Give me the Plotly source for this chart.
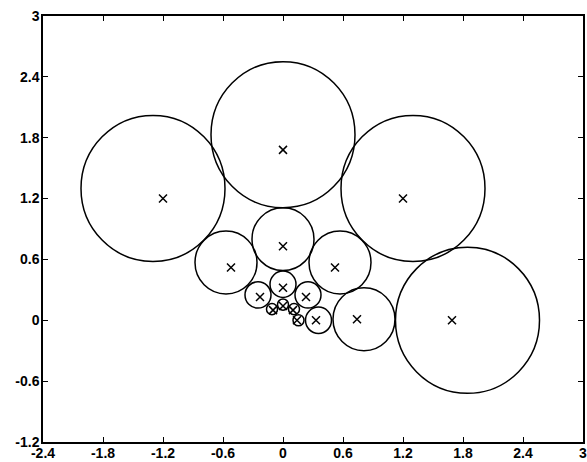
import plotly.graph_objects as go

# Marker positions
marker_x = [-1.2, 0.0, 1.2, 1.69,
            -0.52, 0.0, 0.52, 0.74,
            -0.23, 0.0, 0.23, 0.33,
            -0.10, 0.0, 0.10, 0.14]
marker_y = [1.2, 1.68, 1.2, 0.0,
            0.52, 0.73, 0.52, 0.01,
            0.23, 0.32, 0.23, 0.0,
            0.10, 0.14, 0.10, 0.0]

# Circles: centres and radii
circle_cx = [-1.30, 0.0, 1.30, 1.845,
             -0.57, 0.0, 0.57, 0.81,
             -0.25, 0.0, 0.25, 0.355,
             -0.11, 0.0, 0.11, 0.155]
circle_cy = [1.30, 1.83, 1.30, 0.0,
             0.57, 0.80, 0.57, 0.01,
             0.25, 0.355, 0.25, 0.0,
             0.11, 0.155, 0.11, 0.0]
circle_r = [0.72, 0.72, 0.72, 0.72,
            0.31, 0.31, 0.31, 0.31,
            0.13, 0.13, 0.13, 0.13,
            0.055, 0.055, 0.055, 0.055]

x_ticks = [-2.4, -1.8, -1.2, -0.6, 0, 0.6, 1.2, 1.8, 2.4, 3]
x_tick_labels = ["-2.4", "-1.8", "-1.2", "-0.6", "0", "0.6", "1.2", "1.8", "2.4", "3"]
y_ticks = [-1.2, -0.6, 0, 0.6, 1.2, 1.8, 2.4, 3]
y_tick_labels = ["-1.2", "-0.6", "0", "0.6", "1.2", "1.8", "2.4", "3"]

fig = go.Figure()
fig.add_trace(go.Scatter(
    x=marker_x, y=marker_y, mode="markers",
    marker=dict(symbol="x-thin", size=8, line=dict(width=1.5, color="black"), color="black"),
    showlegend=False, hoverinfo="skip"))

for cx, cy, r in zip(circle_cx, circle_cy, circle_r):
    fig.add_shape(type="circle", xref="x", yref="y",
                  x0=cx - r, x1=cx + r, y0=cy - r, y1=cy + r,
                  line=dict(color="black", width=1.5))

tickfont = dict(family="Liberation Sans, Arial, sans-serif", size=14, color="black", weight="bold")
fig.update_layout(
    width=587, height=462,
    margin=dict(l=43, r=4, t=16, b=20, autoexpand=False),
    paper_bgcolor="white", plot_bgcolor="white",
    xaxis=dict(range=[-2.4, 3], tickvals=x_ticks, ticktext=x_tick_labels, automargin=False,
               showgrid=False, zeroline=False, showline=True, linecolor="black", linewidth=1.5,
               mirror="ticks", ticks="inside", ticklen=5, tickcolor="black", tickwidth=1.2,
               tickfont=tickfont, ticklabelstandoff=-3, ticklabeloverflow="allow"),
    yaxis=dict(range=[-1.2, 3], tickvals=y_ticks, ticktext=y_tick_labels, automargin=False,
               showgrid=False, zeroline=False, showline=True, linecolor="black", linewidth=1.5,
               mirror="ticks", ticks="inside", ticklen=5, tickcolor="black", tickwidth=1.2,
               tickfont=tickfont, ticklabelstandoff=-1, ticklabeloverflow="allow"),
)
fig.write_html("out.html", config={"displayModeBar": False},
               post_script="document.body.style.margin='0';document.body.style.overflow='hidden';")
